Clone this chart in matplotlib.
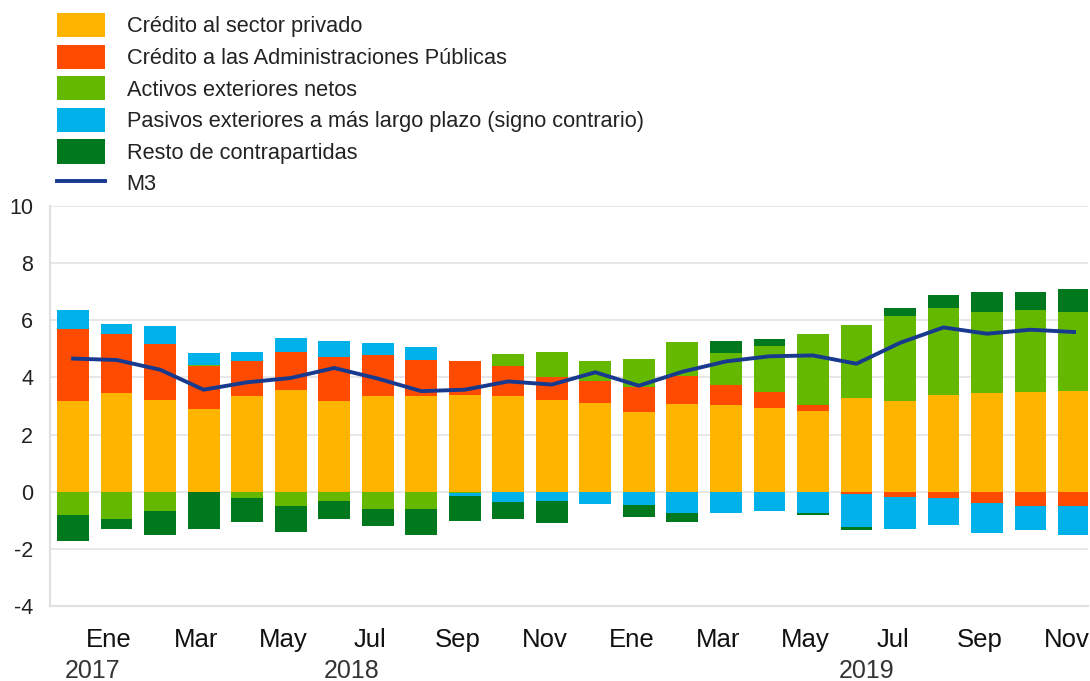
import matplotlib
matplotlib.use("Agg")
import matplotlib.pyplot as plt
import numpy as np
from matplotlib.patches import Patch
from matplotlib.lines import Line2D

plt.rcParams['font.family'] = ['Liberation Sans', 'DejaVu Sans']
plt.rcParams['axes.unicode_minus'] = False

# Data (percentage-point contributions), Dec 2017 .. Nov 2019 (24 months)
private_credit = [3.17, 3.46, 3.20, 2.90, 3.36, 3.57, 3.19, 3.36, 3.36, 3.37, 3.36, 3.20,
                  3.11, 2.79, 3.07, 3.05, 2.93, 2.82, 3.28, 3.17, 3.38, 3.46, 3.49, 3.52]
gov_credit = [2.52, 2.07, 1.97, 1.49, 1.22, 1.32, 1.51, 1.44, 1.24, 1.19, 1.03, 0.80,
              0.75, 0.88, 0.97, 0.70, 0.55, 0.23, -0.07, -0.18, -0.22, -0.41, -0.51, -0.51]
net_ext_assets = [-0.82, -0.97, -0.66, 0.06, -0.21, -0.51, -0.33, -0.60, -0.60, -0.05, 0.43, 0.88,
                  0.73, 0.98, 1.20, 1.11, 1.63, 2.48, 2.54, 2.97, 3.05, 2.84, 2.88, 2.76]
long_term_liab = [0.68, 0.35, 0.64, 0.41, 0.31, 0.49, 0.56, 0.41, 0.45, -0.10, -0.35, -0.31,
                  -0.42, -0.47, -0.76, -0.74, -0.66, -0.74, -1.17, -1.12, -0.96, -1.03, -0.83, -1.02]
other = [-0.91, -0.32, -0.87, -1.30, -0.84, -0.91, -0.61, -0.61, -0.92, -0.88, -0.60, -0.80,
         -0.02, -0.42, -0.31, 0.43, 0.25, -0.06, -0.10, 0.29, 0.47, 0.69, 0.62, 0.82]
m3 = [4.66, 4.61, 4.27, 3.57, 3.83, 3.98, 4.33, 3.96, 3.52, 3.57, 3.86, 3.75,
      4.18, 3.71, 4.20, 4.56, 4.74, 4.77, 4.48, 5.21, 5.75, 5.53, 5.67, 5.59]

month_labels = ['Ene', 'Mar', 'May', 'Jul', 'Sep', 'Nov', 'Ene', 'Mar', 'May', 'Jul', 'Sep', 'Nov']
year_labels = ['2017', '2018', '2019']
year_pos = [0.45, 6.41, 18.24]

series_names = ['Crédito al sector privado', 'Crédito a las Administraciones Públicas',
                'Activos exteriores netos', 'Pasivos exteriores a más largo plazo (signo contrario)',
                'Resto de contrapartidas']
colors = ['#FFB400', '#FF4B00', '#65B800', '#00B1EA', '#00781E']
line_color = '#173a8e'

series = [private_credit, gov_credit, net_ext_assets, long_term_liab, other]
n = len(m3)
x = np.arange(n)

fig = plt.figure(figsize=(10.9, 6.81), dpi=100)
ax = fig.add_axes([50/1090, 75/681, 1038/1090, 400/681])

pos_base = np.zeros(n)
neg_base = np.zeros(n)
for vals, c in zip(series, colors):
    v = np.array(vals)
    bottoms = np.where(v >= 0, pos_base, neg_base)
    ax.bar(x, v, bottom=bottoms, width=0.73, color=c, edgecolor='none', zorder=2)
    pos_base = pos_base + np.where(v >= 0, v, 0)
    neg_base = neg_base + np.where(v < 0, v, 0)

ax.plot(x, m3, color=line_color, lw=2.8, zorder=3, solid_joinstyle='round')

ax.set_xlim(-0.53, 23.32)
ax.set_ylim(-4, 10)
ax.set_yticks(np.arange(-4, 11, 2))
ax.yaxis.grid(True, color='#e3e3e3', lw=1.2, zorder=0)
ax.set_axisbelow(True)
for s in ['top', 'right']:
    ax.spines[s].set_visible(False)
for s in ['left', 'bottom']:
    ax.spines[s].set_color('#e0e0e0')
    ax.spines[s].set_linewidth(1.5)
ax.tick_params(axis='both', length=0, colors='#222222')
ax.tick_params(axis='y', pad=12, labelsize=15.5)
ax.set_xticks(x[1::2] - 0.17)
ax.set_xticklabels(month_labels, fontsize=18.5, color='#111111')
ax.tick_params(axis='x', pad=15.5)

for lab, p in zip(year_labels, year_pos):
    ax.text(p, -6.27, lab, ha='center', va='center', fontsize=18, color='#333333')

handles = [Patch(facecolor=c, edgecolor='none') for c in colors]
handles.append(Line2D([0], [0], color=line_color, lw=2.8))
labels = series_names + ['M3']
fig.legend(handles, labels, loc='upper left', bbox_to_anchor=(52.6/1090, 1 - 8.6/681),
           frameon=False, fontsize=15.7, handlelength=2.2, handleheight=1.32,
           labelspacing=0.335, handletextpad=1.0, borderaxespad=0, borderpad=0.2,
           labelcolor='#222222')

fig.savefig('out.png', dpi=100)
